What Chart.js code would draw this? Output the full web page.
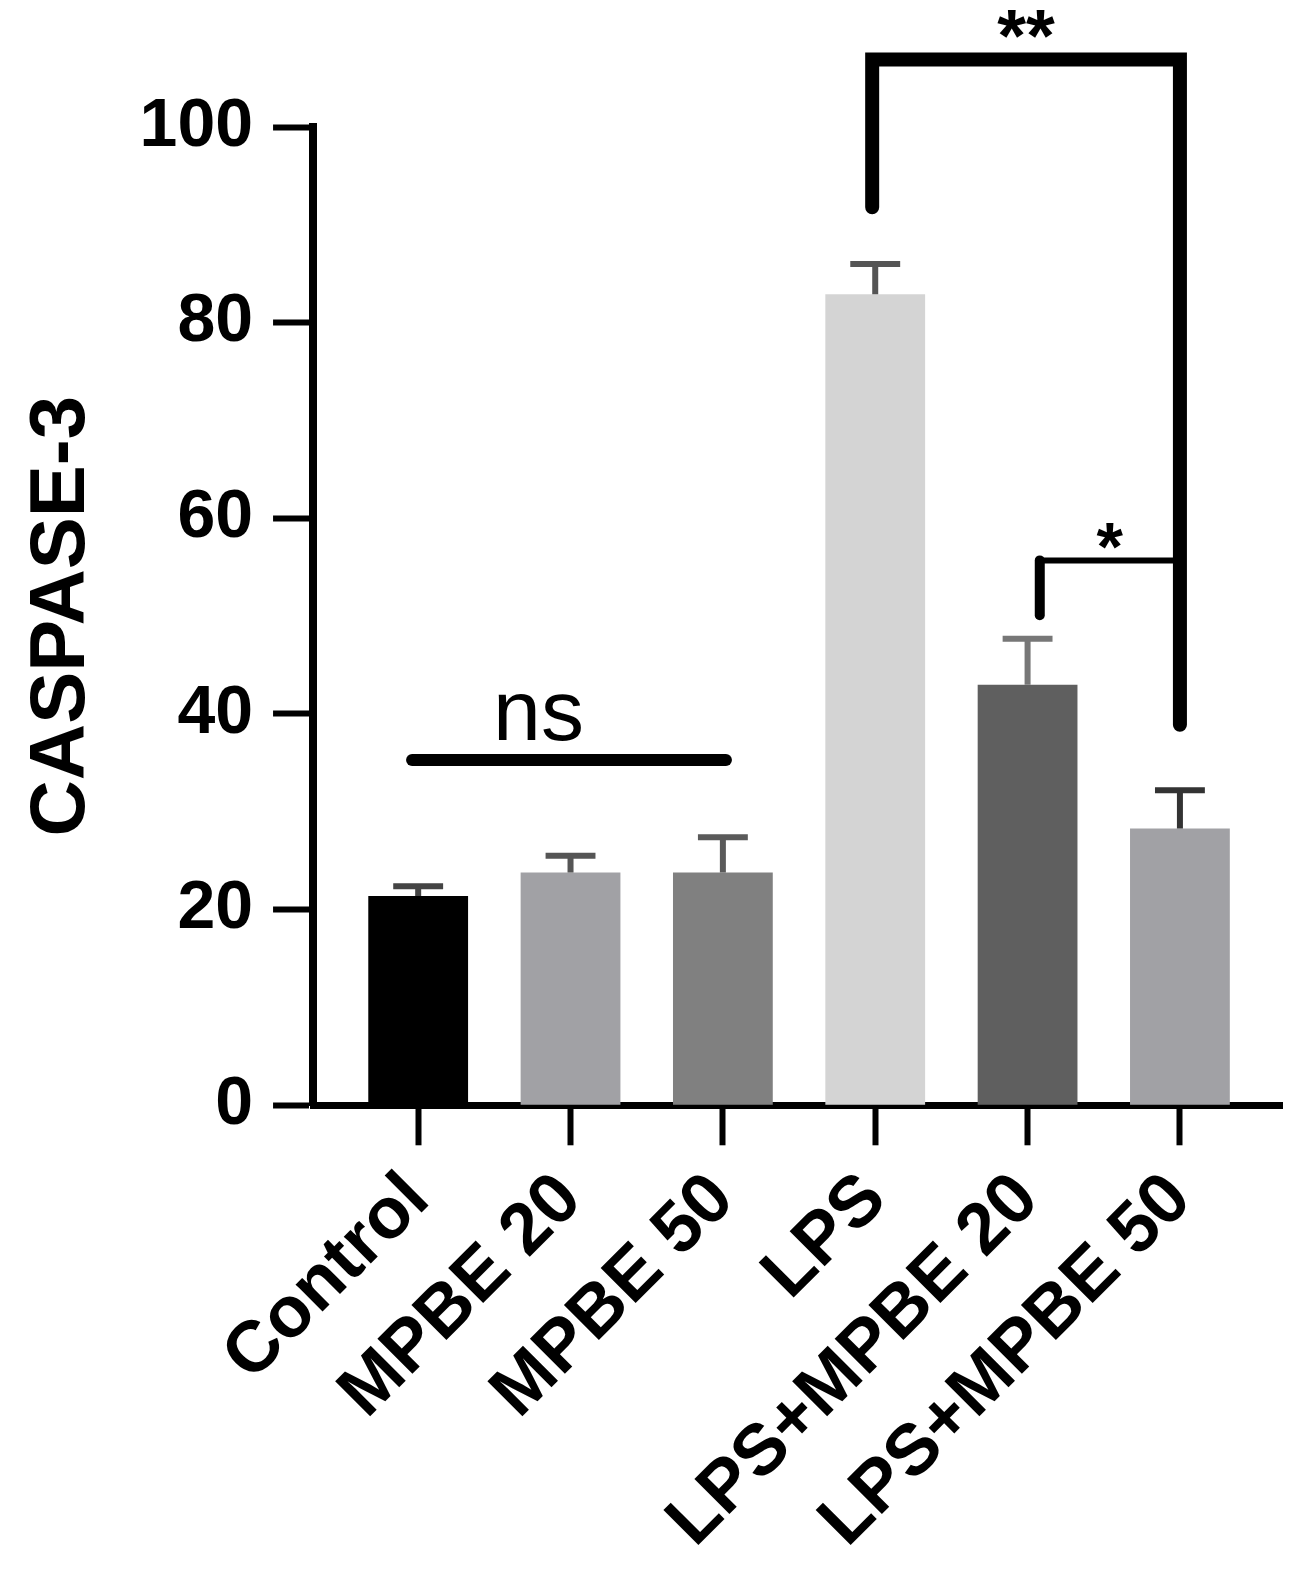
<!DOCTYPE html>
<html>
<head>
<meta charset="utf-8">
<script src="https://cdn.jsdelivr.net/npm/chart.js@4.4.1/dist/chart.umd.min.js"></script>
<style>
  html, body { margin: 0; padding: 0; background: #fff; }
</style>
</head>
<body>
<canvas id="myChart" width="1306" height="1575"></canvas>
<script>
const categories = ['Control', 'MPBE 20', 'MPBE 50', 'LPS', 'LPS+MPBE 20', 'LPS+MPBE 50'];
const means = [21.4, 23.8, 23.8, 82.9, 43.0, 28.3];
const errors = [1.0, 1.7, 3.6, 3.1, 4.7, 3.9];
const yTicks = [0, 20, 40, 60, 80, 100];

// significance marks, x in category index, y in axis units
const nsSpan = [-0.04, 2.02];
const nsLevel = 35.3;
const lpsBracketX = [2.98, 5.0];
const lpsBracketY = [91.8, 106.9, 38.9];   // left foot, top, right foot
const mpbeBracketX = [4.08, 5.0];
const mpbeBracketY = [50.1, 55.7];         // left foot, top

const barColors = ['#000000', '#a1a1a5', '#808080', '#d4d4d4', '#5f5f5f', '#a1a1a5'];
const errColors = ['#444444', '#555555', '#5a5a5a', '#555555', '#777777', '#333333'];
const FONT = "'Liberation Sans', Arial, sans-serif";

const annotations = {
    id: 'annotations',
    afterDatasetsDraw(chart) {
        const { ctx, scales: { x, y } } = chart;
        ctx.save();

        // error bars (upper only)
        chart.getDatasetMeta(0).data.forEach((bar, i) => {
            const top = y.getPixelForValue(means[i] + errors[i]);
            const half = bar.width * 0.25;
            ctx.strokeStyle = errColors[i];
            ctx.lineWidth = 6;
            ctx.lineCap = 'butt';
            ctx.beginPath();
            ctx.moveTo(bar.x, bar.y);
            ctx.lineTo(bar.x, top);
            ctx.moveTo(bar.x - half, top);
            ctx.lineTo(bar.x + half, top);
            ctx.stroke();
        });

        ctx.strokeStyle = '#000';
        ctx.fillStyle = '#000';
        ctx.lineCap = 'round';
        ctx.lineJoin = 'miter';

        // ns line
        const nsY = y.getPixelForValue(nsLevel);
        ctx.lineWidth = 12;
        ctx.beginPath();
        ctx.moveTo(x.getPixelForValue(nsSpan[0]), nsY);
        ctx.lineTo(x.getPixelForValue(nsSpan[1]), nsY);
        ctx.stroke();
        ctx.font = '86px ' + FONT;
        ctx.textAlign = 'center';
        ctx.textBaseline = 'alphabetic';
        ctx.fillText('ns', x.getPixelForValue((nsSpan[0] + nsSpan[1]) / 2 - 0.2), nsY - 20);

        // LPS vs LPS+MPBE 50 bracket
        const lx = x.getPixelForValue(lpsBracketX[0]);
        const rx = x.getPixelForValue(lpsBracketX[1]);
        const topY = y.getPixelForValue(lpsBracketY[1]);
        ctx.lineWidth = 14;
        ctx.beginPath();
        ctx.moveTo(lx, y.getPixelForValue(lpsBracketY[0]));
        ctx.lineTo(lx, topY);
        ctx.lineTo(rx, topY);
        ctx.lineTo(rx, y.getPixelForValue(lpsBracketY[2]));
        ctx.stroke();
        ctx.font = 'bold 74px ' + FONT;
        ctx.fillText('**', (lx + rx) / 2, topY + 2);

        // LPS+MPBE 20 vs LPS+MPBE 50 bracket
        const mlx = x.getPixelForValue(mpbeBracketX[0]);
        const mrx = x.getPixelForValue(mpbeBracketX[1]);
        const mTop = y.getPixelForValue(mpbeBracketY[1]);
        ctx.lineWidth = 10;
        ctx.beginPath();
        ctx.moveTo(mlx, y.getPixelForValue(mpbeBracketY[0]));
        ctx.lineTo(mlx, mTop);
        ctx.stroke();
        ctx.lineWidth = 6;
        ctx.lineCap = 'butt';
        ctx.beginPath();
        ctx.moveTo(mlx, mTop);
        ctx.lineTo(mrx, mTop);
        ctx.stroke();
        ctx.font = 'bold 68px ' + FONT;
        ctx.fillText('*', (mlx + mrx) / 2, mTop + 10);

        ctx.restore();
    }
};

new Chart(document.getElementById('myChart'), {
    type: 'bar',
    data: {
        datasets: [{
            data: means.map((v, i) => ({ x: i, y: v })),
            backgroundColor: barColors,
            borderWidth: 0,
            barPercentage: 0.655,
            categoryPercentage: 1
        }]
    },
    options: {
        responsive: false,
        animation: false,
        devicePixelRatio: 1,
        layout: { padding: { top: 127, right: 24, left: 0, bottom: -2 } },
        plugins: {
            legend: { display: false },
            tooltip: { enabled: false }
        },
        scales: {
            x: {
                type: 'linear',
                min: -0.69,
                max: 5.67,
                offset: false,
                afterBuildTicks: (scale) => {
                    scale.ticks = categories.map((c, i) => ({ value: i }));
                },
                grid: {
                    offset: false,
                    drawOnChartArea: false,
                    drawTicks: true,
                    tickLength: 40,
                    tickWidth: 6,
                    tickColor: '#000'
                },
                border: { display: true, width: 7, color: '#000' },
                ticks: {
                    autoSkip: false,
                    maxRotation: 45,
                    minRotation: 45,
                    padding: 12,
                    color: '#000',
                    font: { family: FONT, size: 72, weight: 'bold' },
                    callback: (v) => categories[v]
                }
            },
            y: {
                min: 0,
                max: 100,
                afterBuildTicks: (scale) => {
                    scale.ticks = yTicks.map(v => ({ value: v }));
                },
                grid: {
                    drawOnChartArea: false,
                    drawTicks: true,
                    tickLength: 40,
                    tickWidth: 6,
                    tickColor: '#000'
                },
                border: { display: true, width: 8, color: '#000' },
                ticks: {
                    padding: 20,
                    color: '#000',
                    font: { family: FONT, size: 68, weight: 'bold' }
                },
                title: {
                    display: true,
                    text: 'CASPASE-3',
                    color: '#000',
                    font: { family: FONT, size: 78, weight: 'bold' },
                    padding: { top: 16, bottom: 10 }
                }
            }
        }
    },
    plugins: [annotations]
});
</script>
</body>
</html>
